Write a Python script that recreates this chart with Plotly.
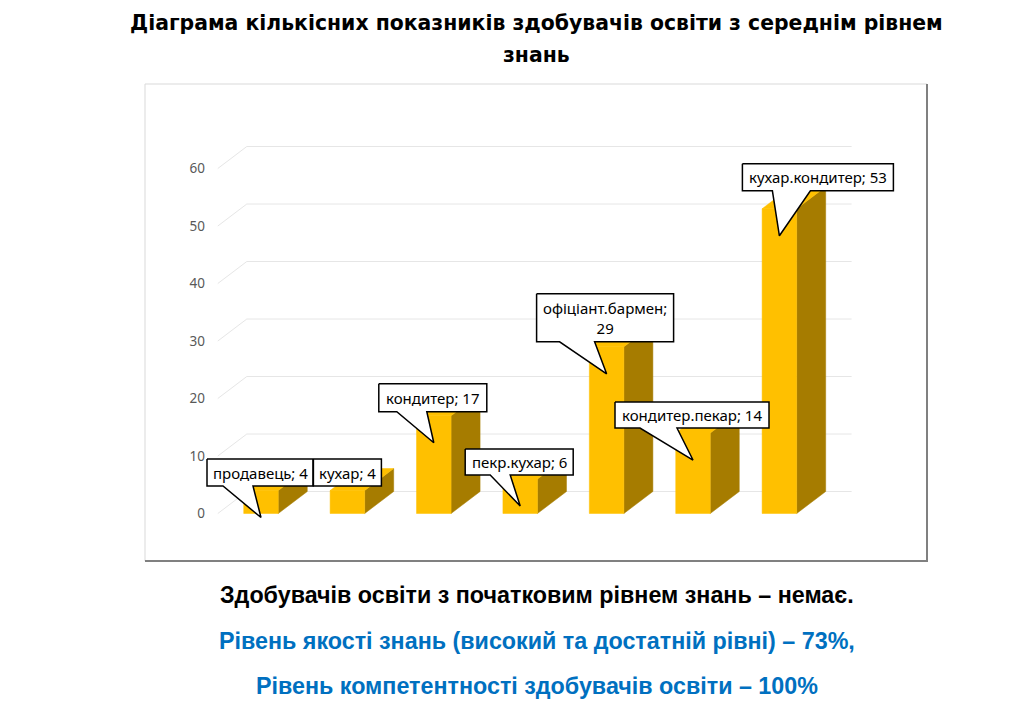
import plotly.graph_objects as go

categories = ["продавець", "кухар", "кондитер", "пекр.кухар",
              "офіціант.бармен", "кондитер.пекар", "кухар.кондитер"]
values = [4, 4, 17, 6, 29, 14, 53]
label_texts = ["продавець; 4", "кухар; 4", "кондитер; 17", "пекр.кухар; 6",
               "офіціант.бармен;<br>29", "кондитер.пекар; 14", "кухар.кондитер; 53"]
y_ticks = [0, 10, 20, 30, 40, 50, 60]

title_lines = ["Діаграма кількісних показників здобувачів освіти з середнім рівнем",
               "знань"]
note_black = "Здобувачів освіти з початковим рівнем знань – немає."
note_quality = "Рівень якості знань (високий та достатній рівні) – 73%,"
note_competence = "Рівень компетентності здобувачів освіти – 100%"

# page / plot geometry in px (page px measured on the screenshot, figure sits 8px in)
W, H = 1024, 724
off = 8
ml, mr, mt, mb = 192, 128, 132, 203
zero_x, unit_x = 261 - off, 86.4     # px of category 0, px per category
zero_y, unit_y = 513.5 - off, 5.75   # px of value 0, px per unit

x_range = [(ml - zero_x) / unit_x, (W - mr - zero_x) / unit_x]
y_range = [(zero_y - (H - mb)) / unit_y, (zero_y - mt) / unit_y]

bar_w = 0.4
depth_x = 29 / unit_x
depth_y = 22 / unit_y
tip_drop = 4.7

gold = "#FFC000"
gold_side = "#A67C00"
grid_color = "#E6E6E6"

# callout box offsets from the tail tip (px): left, right, top, bottom, tail base x1, x2
callouts = [
    (-54, 52, -58.5, -31.5, -38, -8),
    (-34, 34, -58.5, -31.5, None, None),
    (-55, 53, -59, -31, -37, -7),
    (-55, 53, -57, -31, -30, -10),
    (-70, 67, -80, -32, -47, -12),
    (-78, 76, -58, -32, -53, -16),
    (-37, 114, -72, -45, -7, 31),
]


def paper_x(px):
    return (px - off - ml) / (W - ml - mr)


def paper_y(py):
    return (H - mb - (py - off)) / (H - mt - mb)


fig = go.Figure()

# back wall gridlines with the slanted floor edge
gx, gy = [], []
left, right = -0.5, len(categories) - 0.5
for t in y_ticks:
    gx += [left, left + depth_x, right + depth_x, None]
    gy += [t, t + depth_y, t + depth_y, None]
fig.add_trace(go.Scatter(x=gx, y=gy, mode="lines", line=dict(color=grid_color, width=1),
                         hoverinfo="skip"))


def face(xs, ys, color, name=None):
    fig.add_trace(go.Scatter(x=xs + [xs[0]], y=ys + [ys[0]], mode="lines", fill="toself",
                             fillcolor=color, line=dict(color=color, width=0.5),
                             hoverinfo="text" if name else "skip", text=name))


for i, v in enumerate(values):
    x0, x1 = i - bar_w / 2, i + bar_w / 2
    face([x1, x1 + depth_x, x1 + depth_x, x1], [0, depth_y, v + depth_y, v], gold_side)
    face([x0, x0 + depth_x, x1 + depth_x, x1], [v, v + depth_y, v + depth_y, v], gold)
    face([x0, x1, x1, x0], [0, 0, v, v], gold, f"{categories[i]}: {v}")

# callouts
for i, v in enumerate(values):
    tx, ty = i, v - tip_drop
    l, r, t, b, b1, b2 = callouts[i]
    X = lambda d: tx + d / unit_x
    Y = lambda d: ty - d / unit_y
    xs = [X(l), X(r), X(r)]
    ys = [Y(t), Y(t), Y(b)]
    if b1 is not None:
        xs += [X(b2), tx, X(b1)]
        ys += [Y(b), ty, Y(b)]
    xs += [X(l), X(l)]
    ys += [Y(b), Y(t)]
    fig.add_trace(go.Scatter(x=xs, y=ys, mode="lines", fill="toself", fillcolor="white",
                             line=dict(color="black", width=1.5), hoverinfo="skip"))
    fig.add_annotation(x=X((l + r) / 2), y=Y((t + b) / 2), text=label_texts[i],
                       showarrow=False, font=dict(family="Noto Sans", size=15, color="black"))

# chart frame
fig.add_shape(type="rect", xref="paper", yref="paper",
              x0=paper_x(145), x1=paper_x(927), y0=paper_y(561), y1=paper_y(84),
              line=dict(color="#D9D9D9", width=1))
fig.add_shape(type="path", xref="paper", yref="paper",
              path=f"M {paper_x(927)} {paper_y(84)} L {paper_x(927)} {paper_y(561)} "
                   f"L {paper_x(145)} {paper_y(561)}",
              line=dict(color="#808080", width=2))


def page_text(text, px, py, font):
    fig.add_annotation(xref="paper", yref="paper", x=paper_x(px), y=paper_y(py),
                       xanchor="center", yanchor="middle", text=f"<b>{text}</b>",
                       showarrow=False, font=font)


title_font = dict(family="DejaVu Sans", size=20.4, color="black")
page_text(title_lines[0], 536, 23, title_font)
page_text(title_lines[1], 536, 55, title_font)

page_text(note_black, 537, 595, dict(family="Liberation Sans", size=23.3, color="black"))
page_text(note_quality, 537, 641, dict(family="Liberation Sans", size=23.3, color="#0070C0"))
page_text(note_competence, 537, 686, dict(family="Liberation Sans", size=23.3, color="#0070C0"))

fig.update_xaxes(range=x_range, visible=False)
fig.update_yaxes(range=y_range, tickvals=y_ticks, showgrid=False, zeroline=False,
                 showline=False, ticks="", ticklabelstandoff=-6,
                 tickfont=dict(family="Noto Sans", size=13.5, color="#595959"))
fig.update_layout(width=W, height=H, margin=dict(l=ml, r=mr, t=mt, b=mb),
                  plot_bgcolor="white", paper_bgcolor="white", showlegend=False)

fig.write_html("out.html")
